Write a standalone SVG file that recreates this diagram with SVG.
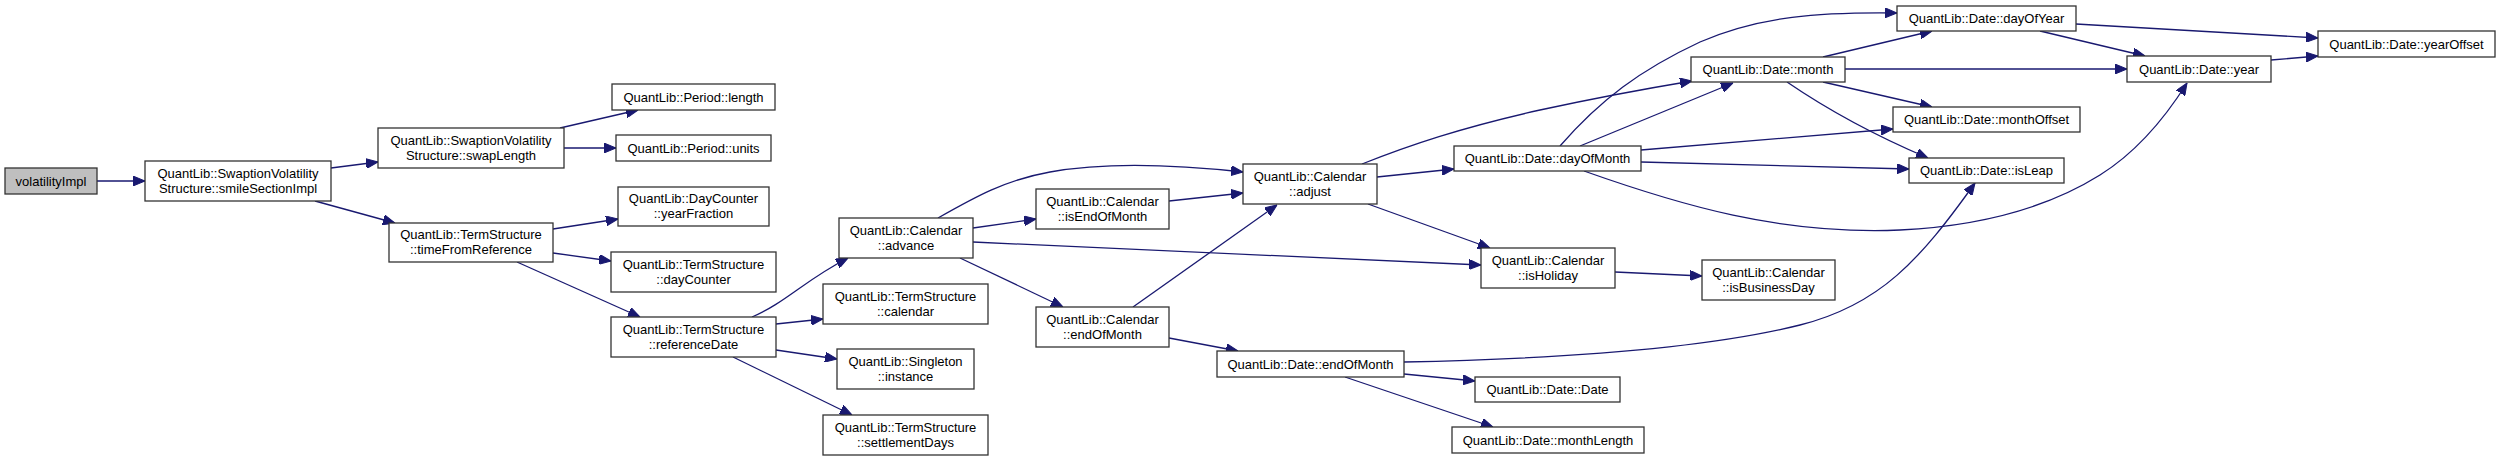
<svg xmlns="http://www.w3.org/2000/svg" width="2500" height="461" viewBox="0 0 2500 461">
<style>
.n rect{fill:#fff;stroke:#333;stroke-width:1.3}
.n.root rect{fill:#bfbfbf}
.n text{font-family:"Liberation Sans",Arial,sans-serif;font-size:13px;fill:#000;text-anchor:middle}
.e path{fill:none;stroke:#191970;stroke-width:1.3;marker-end:url(#ah)}
</style>
<defs>
<marker id="ah" viewBox="0 0 12 10" refX="12" refY="5" markerWidth="12" markerHeight="10" markerUnits="userSpaceOnUse" orient="auto">
<path d="M0,0 L12,5 L0,10 z" fill="#191970" stroke="#191970" stroke-width="1"/>
</marker>
</defs>
<rect width="2500" height="461" fill="#fff"/>
<g id="connectors" class="e">
<path d="M97,181 L145,181"/>
<path d="M331,168 L378,162"/>
<path d="M315,201 L395,223"/>
<path d="M560,128 L638,110"/>
<path d="M564,148 L616,148"/>
<path d="M553,229 L618,219"/>
<path d="M553,253 L611,261"/>
<path d="M517,262 L640,317"/>
<path d="M752,317 C785,303 805,280 848,258"/>
<path d="M776,324 L823,319"/>
<path d="M776,350 L837,359"/>
<path d="M733,357 L852,415"/>
<path d="M973,228 L1036,219"/>
<path d="M938,218 C975,197 1005,180 1050,172 C1110,161 1180,165 1243,172"/>
<path d="M973,242 L1481,265"/>
<path d="M960,258 L1063,307"/>
<path d="M1169,201 L1243,193"/>
<path d="M1133,307 L1277,205"/>
<path d="M1169,338 L1238,351"/>
<path d="M1377,177 L1454,169"/>
<path d="M1362,164 C1410,145 1460,128 1540,110 C1600,97 1650,88 1692,81"/>
<path d="M1560,146 C1600,100 1640,70 1700,42 C1760,16 1820,12 1897,13"/>
<path d="M1580,146 L1733,83"/>
<path d="M1641,150 L1893,129"/>
<path d="M1641,162 L1909,169"/>
<path d="M1584,171 C1680,205 1780,235 1900,230 C2000,225 2060,200 2100,175 C2140,150 2170,110 2187,83"/>
<path d="M1823,57 L1932,31"/>
<path d="M1845,69 L2127,69"/>
<path d="M1823,82 L1932,107"/>
<path d="M1787,82 Q1850,125 1928,158"/>
<path d="M2040,31 L2145,56"/>
<path d="M2076,24 L2318,38"/>
<path d="M2271,60 L2318,56"/>
<path d="M1615,272 L1702,276"/>
<path d="M1404,362 C1550,359 1700,350 1800,325 C1880,305 1920,260 1975,183"/>
<path d="M1404,374 L1475,381"/>
<path d="M1345,377 L1493,427"/>
<path d="M1368,204 L1490,248"/>
</g>
<g id="volatilityImpl" class="n root"><rect x="5" y="168" width="92" height="26"/><text x="51" y="185.5">volatilityImpl</text></g>
<g id="smileSectionImpl" class="n"><rect x="145" y="161" width="186" height="40"/><text x="238" y="177.5">QuantLib::SwaptionVolatility</text><text x="238" y="192.5">Structure::smileSectionImpl</text></g>
<g id="swapLength" class="n"><rect x="378" y="128" width="186" height="40"/><text x="471" y="144.5">QuantLib::SwaptionVolatility</text><text x="471" y="159.5">Structure::swapLength</text></g>
<g id="periodLength" class="n"><rect x="612" y="84" width="163" height="26"/><text x="693.5" y="101.5">QuantLib::Period::length</text></g>
<g id="periodUnits" class="n"><rect x="616" y="135" width="155" height="26"/><text x="693.5" y="152.5">QuantLib::Period::units</text></g>
<g id="timeFromReference" class="n"><rect x="389" y="223" width="164" height="39"/><text x="471" y="239">QuantLib::TermStructure</text><text x="471" y="254">::timeFromReference</text></g>
<g id="yearFraction" class="n"><rect x="618" y="187" width="151" height="39"/><text x="693.5" y="203">QuantLib::DayCounter</text><text x="693.5" y="218">::yearFraction</text></g>
<g id="dayCounter" class="n"><rect x="611" y="252" width="165" height="40"/><text x="693.5" y="268.5">QuantLib::TermStructure</text><text x="693.5" y="283.5">::dayCounter</text></g>
<g id="referenceDate" class="n"><rect x="611" y="317" width="165" height="40"/><text x="693.5" y="333.5">QuantLib::TermStructure</text><text x="693.5" y="348.5">::referenceDate</text></g>
<g id="advance" class="n"><rect x="839" y="218" width="134" height="40"/><text x="906" y="234.5">QuantLib::Calendar</text><text x="906" y="249.5">::advance</text></g>
<g id="calendar" class="n"><rect x="823" y="284" width="165" height="40"/><text x="905.5" y="300.5">QuantLib::TermStructure</text><text x="905.5" y="315.5">::calendar</text></g>
<g id="instance" class="n"><rect x="837" y="349" width="137" height="40"/><text x="905.5" y="365.5">QuantLib::Singleton</text><text x="905.5" y="380.5">::instance</text></g>
<g id="settlementDays" class="n"><rect x="823" y="415" width="165" height="40"/><text x="905.5" y="431.5">QuantLib::TermStructure</text><text x="905.5" y="446.5">::settlementDays</text></g>
<g id="isEndOfMonth" class="n"><rect x="1036" y="189" width="133" height="40"/><text x="1102.5" y="205.5">QuantLib::Calendar</text><text x="1102.5" y="220.5">::isEndOfMonth</text></g>
<g id="calEndOfMonth" class="n"><rect x="1036" y="307" width="133" height="40"/><text x="1102.5" y="323.5">QuantLib::Calendar</text><text x="1102.5" y="338.5">::endOfMonth</text></g>
<g id="adjust" class="n"><rect x="1243" y="164" width="134" height="40"/><text x="1310" y="180.5">QuantLib::Calendar</text><text x="1310" y="195.5">::adjust</text></g>
<g id="dayOfMonth" class="n"><rect x="1454" y="146" width="187" height="25"/><text x="1547.5" y="163">QuantLib::Date::dayOfMonth</text></g>
<g id="isHoliday" class="n"><rect x="1481" y="248" width="134" height="40"/><text x="1548" y="264.5">QuantLib::Calendar</text><text x="1548" y="279.5">::isHoliday</text></g>
<g id="dateEndOfMonth" class="n"><rect x="1217" y="351" width="187" height="26"/><text x="1310.5" y="368.5">QuantLib::Date::endOfMonth</text></g>
<g id="dateDate" class="n"><rect x="1475" y="377" width="145" height="25"/><text x="1547.5" y="394">QuantLib::Date::Date</text></g>
<g id="monthLength" class="n"><rect x="1452" y="427" width="192" height="26"/><text x="1548" y="444.5">QuantLib::Date::monthLength</text></g>
<g id="dayOfYear" class="n"><rect x="1897" y="6" width="179" height="25"/><text x="1986.5" y="23">QuantLib::Date::dayOfYear</text></g>
<g id="month" class="n"><rect x="1691" y="57" width="154" height="25"/><text x="1768" y="74">QuantLib::Date::month</text></g>
<g id="monthOffset" class="n"><rect x="1893" y="107" width="187" height="25"/><text x="1986.5" y="124">QuantLib::Date::monthOffset</text></g>
<g id="isLeap" class="n"><rect x="1909" y="158" width="155" height="25"/><text x="1986.5" y="175">QuantLib::Date::isLeap</text></g>
<g id="isBusinessDay" class="n"><rect x="1702" y="260" width="133" height="40"/><text x="1768.5" y="276.5">QuantLib::Calendar</text><text x="1768.5" y="291.5">::isBusinessDay</text></g>
<g id="year" class="n"><rect x="2127" y="56" width="144" height="26"/><text x="2199" y="73.5">QuantLib::Date::year</text></g>
<g id="yearOffset" class="n"><rect x="2318" y="31" width="177" height="26"/><text x="2406.5" y="48.5">QuantLib::Date::yearOffset</text></g>
</svg>
